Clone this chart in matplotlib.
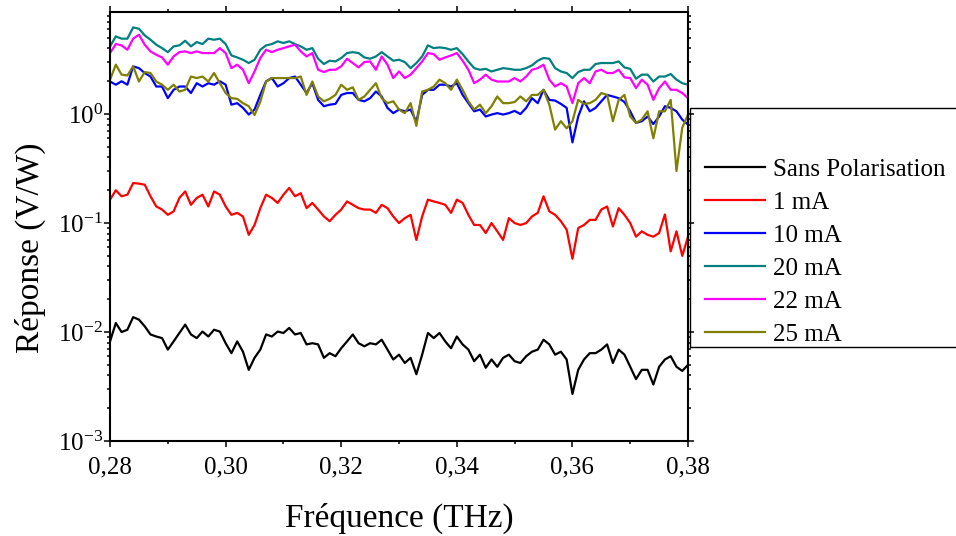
import numpy as np
import matplotlib
matplotlib.use('Agg')
from matplotlib import pyplot as plt
from matplotlib import ticker
from matplotlib.patches import Rectangle

plt.rcParams['font.family'] = ['Liberation Serif', 'DejaVu Serif']
plt.rcParams['mathtext.fontset'] = 'custom'
plt.rcParams['mathtext.rm'] = 'Liberation Serif'
plt.rcParams['mathtext.it'] = 'Liberation Serif:italic'

# frequency grid (THz), one reading every 0.001 THz
freq = np.linspace(0.28, 0.38, 101)

sans_pol = [0.0082, 0.0121, 0.0100, 0.0105, 0.0137, 0.0130, 0.0113, 0.0095, 0.0091, 0.0088,
            0.0069, 0.0082, 0.0098, 0.0117, 0.0095, 0.0088, 0.0101, 0.0091, 0.0105, 0.0101,
            0.0079, 0.0064, 0.0082, 0.0066, 0.0045, 0.0058, 0.0069, 0.0095, 0.0091, 0.0101,
            0.0098, 0.0109, 0.0095, 0.0098, 0.0077, 0.0079, 0.0077, 0.0058, 0.0064, 0.0060,
            0.0071, 0.0082, 0.0095, 0.0079, 0.0074, 0.0079, 0.0077, 0.0085, 0.0069, 0.0056,
            0.0062, 0.0052, 0.0058, 0.0041, 0.0062, 0.0098, 0.0088, 0.0098, 0.0082, 0.0071,
            0.0091, 0.0077, 0.0069, 0.0054, 0.0062, 0.0047, 0.0056, 0.0048, 0.0058, 0.0062,
            0.0054, 0.0052, 0.0060, 0.0066, 0.0069, 0.0085, 0.0077, 0.0062, 0.0066, 0.0056,
            0.0027, 0.0045, 0.0056, 0.0064, 0.0064, 0.0069, 0.0077, 0.0052, 0.0069, 0.0062,
            0.0048, 0.0037, 0.0045, 0.0045, 0.0033, 0.0048, 0.0056, 0.0060, 0.0048, 0.0044,
            0.0050]

ma_1 = [0.164, 0.200, 0.176, 0.182, 0.233, 0.230, 0.225, 0.176, 0.142, 0.133,
        0.119, 0.128, 0.170, 0.195, 0.147, 0.170, 0.182, 0.142, 0.195, 0.182,
        0.142, 0.119, 0.124, 0.115, 0.078, 0.096, 0.137, 0.182, 0.170, 0.153,
        0.182, 0.210, 0.176, 0.188, 0.137, 0.153, 0.133, 0.115, 0.104, 0.119,
        0.133, 0.158, 0.147, 0.137, 0.133, 0.133, 0.124, 0.147, 0.137, 0.115,
        0.100, 0.111, 0.119, 0.070, 0.115, 0.164, 0.158, 0.153, 0.147, 0.124,
        0.164, 0.153, 0.119, 0.096, 0.096, 0.081, 0.100, 0.084, 0.070, 0.111,
        0.100, 0.096, 0.100, 0.115, 0.124, 0.176, 0.128, 0.119, 0.104, 0.087,
        0.047, 0.090, 0.096, 0.107, 0.107, 0.133, 0.142, 0.093, 0.137, 0.119,
        0.100, 0.075, 0.084, 0.078, 0.075, 0.081, 0.120, 0.055, 0.084, 0.050,
        0.075]

ma_10 = [1.99, 1.86, 2.00, 1.86, 2.74, 2.64, 2.38, 2.21, 1.79, 1.79,
         1.40, 1.67, 1.79, 1.79, 1.56, 1.92, 1.79, 1.92, 1.86, 2.00,
         1.86, 1.22, 1.26, 1.14, 0.99, 1.10, 1.50, 2.00, 2.14, 1.79,
         1.92, 2.14, 2.21, 1.86, 1.56, 1.92, 1.35, 1.18, 1.22, 1.24,
         1.50, 1.56, 1.56, 1.35, 1.31, 1.40, 1.61, 1.45, 1.14, 1.02,
         1.10, 1.06, 1.10, 0.85, 1.50, 1.67, 1.67, 1.86, 1.86, 1.79,
         1.92, 1.50, 1.26, 1.06, 1.10, 0.95, 0.99, 1.02, 0.99, 1.02,
         1.07, 1.00, 1.14, 1.40, 1.26, 1.67, 1.35, 1.33, 1.24, 1.14,
         0.55, 0.95, 1.31, 1.06, 1.14, 1.31, 1.50, 1.45, 1.40, 1.29,
         1.06, 0.83, 0.86, 0.95, 0.81, 0.95, 1.18, 1.14, 1.06, 0.89,
         0.80]

ma_20 = [4.18, 5.16, 4.92, 4.92, 6.24, 6.07, 5.27, 4.81, 4.33, 4.03,
         3.70, 4.18, 4.27, 4.71, 4.18, 4.58, 4.39, 4.92, 4.81, 4.92,
         4.39, 3.45, 3.31, 3.15, 2.94, 3.15, 3.89, 4.27, 4.39, 4.65,
         4.49, 4.65, 4.39, 4.18, 3.89, 4.03, 3.22, 2.88, 3.09, 3.04,
         3.27, 3.63, 3.70, 3.63, 3.31, 3.22, 3.38, 3.70, 3.38, 3.09,
         3.15, 3.00, 2.64, 2.94, 3.38, 4.27, 4.03, 4.09, 4.03, 3.89,
         4.03, 3.55, 3.04, 2.64, 2.55, 2.60, 2.46, 2.55, 2.64, 2.60,
         2.55, 2.55, 2.64, 2.80, 3.09, 3.27, 3.22, 2.64, 2.46, 2.38,
         2.14, 2.43, 2.55, 2.55, 2.88, 2.94, 2.94, 2.94, 3.04, 2.68,
         2.60, 2.11, 2.30, 2.30, 1.99, 2.21, 2.21, 2.33, 2.07, 1.92,
         1.86]

ma_22 = [3.63, 4.39, 4.27, 3.89, 4.92, 5.35, 4.33, 3.76, 3.50, 3.31,
         2.84, 3.38, 3.70, 3.76, 3.63, 3.76, 3.63, 3.63, 3.63, 4.03,
         3.63, 2.64, 2.84, 2.55, 1.92, 2.46, 3.27, 3.89, 3.70, 3.89,
         4.03, 4.18, 4.33, 3.76, 3.38, 3.63, 2.55, 2.43, 2.55, 2.55,
         2.74, 3.22, 2.94, 2.68, 3.00, 3.04, 2.55, 3.38, 2.84, 2.14,
         2.46, 2.14, 2.30, 2.64, 3.04, 3.63, 3.55, 3.15, 3.31, 3.45,
         3.63, 3.09, 2.55, 1.92, 2.07, 2.30, 2.07, 1.99, 1.99, 1.99,
         2.14, 1.99, 2.21, 2.55, 2.64, 2.84, 2.07, 1.79, 1.92, 1.79,
         1.26, 1.92, 2.14, 1.92, 2.46, 2.55, 2.38, 2.38, 2.55, 2.17,
         2.14, 1.73, 2.07, 1.86, 1.35, 1.73, 1.99, 1.67, 1.67, 1.56,
         1.40]

ma_25 = [2.07, 2.84, 2.30, 2.26, 2.74, 1.99, 2.43, 2.38, 1.99, 1.86,
         1.67, 1.86, 1.61, 1.67, 2.21, 2.14, 2.21, 1.99, 2.38, 1.92,
         1.56, 1.40, 1.38, 1.26, 1.18, 0.98, 1.30, 1.99, 2.14, 2.14,
         2.14, 2.14, 2.14, 2.21, 1.50, 1.99, 1.45, 1.31, 1.38, 1.50,
         1.86, 1.67, 1.76, 1.35, 1.45, 1.67, 1.92, 1.40, 1.26, 1.31,
         1.10, 1.02, 1.26, 0.78, 1.61, 1.67, 1.79, 2.07, 1.92, 1.67,
         2.07, 1.67, 1.31, 1.10, 1.22, 1.02, 1.18, 1.45, 1.26, 1.26,
         1.29, 1.45, 1.31, 1.50, 1.50, 1.67, 1.22, 0.72, 0.86, 0.74,
         0.86, 1.35, 1.24, 1.26, 1.35, 1.56, 1.50, 0.86, 1.35, 1.50,
         0.95, 0.83, 0.89, 1.06, 0.60, 1.06, 1.06, 1.35, 0.30, 0.75,
         0.99]

series = [('Sans Polarisation', sans_pol, '#000000'),
          ('1 mA', ma_1, '#ff0000'),
          ('10 mA', ma_10, '#0000ff'),
          ('20 mA', ma_20, '#008080'),
          ('22 mA', ma_22, '#ff00ff'),
          ('25 mA', ma_25, '#808000')]

fig = plt.figure(figsize=(9.56, 5.36), dpi=100)
ax = fig.add_axes([0.1151, 0.1772, 0.6046, 0.801])

for label, vals, color in series:
    ax.plot(freq, vals, color=color, lw=1.6, label=label)

ax.set_yscale('log')
ax.set_xlim(0.28, 0.38)
ax.set_ylim(1e-3, 8.7)

ax.xaxis.set_major_locator(ticker.MultipleLocator(0.02))
ax.xaxis.set_minor_locator(ticker.MultipleLocator(0.01))
ax.xaxis.set_major_formatter(ticker.FuncFormatter(lambda v, p: ('%.2f' % v).replace('.', ',')))
ax.yaxis.set_major_locator(ticker.LogLocator(base=10, numticks=10))
ax.yaxis.set_minor_locator(ticker.LogLocator(base=10, subs=range(2, 10), numticks=20))
ax.yaxis.set_major_formatter(ticker.FuncFormatter(lambda v, p: r'$\mathregular{10^{%d}}$' % round(np.log10(v))))
ax.yaxis.set_minor_formatter(ticker.NullFormatter())

ax.tick_params(which='both', direction='out', top=True, right=True, width=1.1, labelsize=18)
ax.tick_params(axis='x', which='both', pad=7)
ax.tick_params(axis='y', which='both', pad=1)
ax.tick_params(which='major', length=4)
ax.tick_params(which='minor', length=2.5)
for sp in ax.spines.values():
    sp.set_linewidth(1.5)

ax.set_xlabel('Fréquence (THz)', fontsize=24, labelpad=17.5)
ax.set_ylabel('Réponse (V/W)', fontsize=24)
ax.yaxis.set_label_coords(-0.11, 0.45)

# legend box sticks out past the right edge of the figure
fig.patches.append(Rectangle((0.7218, 0.3526), 0.3, 0.4459, transform=fig.transFigure,
                             fill=False, edgecolor='black', lw=1.0))
fig.legend(loc='center left', bbox_to_anchor=(0.7375, 0.5298), frameon=False,
           fontsize=18, handlelength=2.4, handletextpad=0.3, labelspacing=0.42,
           borderpad=0, borderaxespad=0)

fig.savefig('out.png', dpi=100)
